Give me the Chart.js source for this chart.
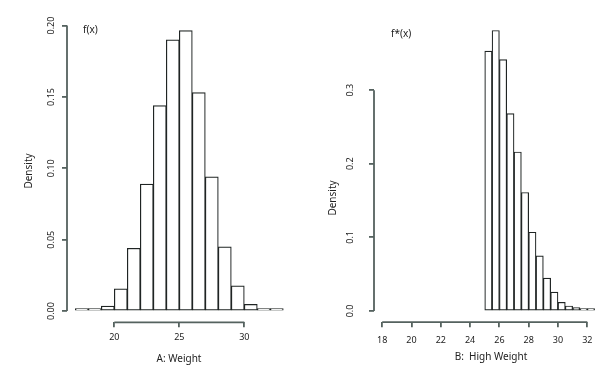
<!DOCTYPE html>
<html>
<head>
<meta charset="utf-8">
<script src="https://cdn.jsdelivr.net/npm/chart.js@4.4.1/dist/chart.umd.min.js"></script>
<style>
    body { margin: 0; background: #fff; }
    #wrap { position: relative; width: 600px; height: 373px; }
    canvas { position: absolute; top: 0; }
</style>
</head>
<body>
<div id="wrap">
    <canvas id="chart-a" width="300" height="373" style="left:0"></canvas>
    <canvas id="chart-b" width="300" height="373" style="left:300px"></canvas>
</div>
<script>
// A: Weight, bins of width 1
const weightBinStart = [17, 18, 19, 20, 21, 22, 23, 24, 25, 26, 27, 28, 29, 30, 31, 32];
const weightDensity = [0.0005, 0.001, 0.0035, 0.0155, 0.044, 0.089, 0.144, 0.190, 0.1965, 0.153, 0.094, 0.045, 0.0177, 0.0047, 0.0014, 0.0005];
const weightTicksX = [20, 25, 30];
const weightTicksY = [0, 0.05, 0.10, 0.15, 0.20];

// B: High Weight, bins of width 0.5
const highBinStart = [25, 25.5, 26, 26.5, 27, 27.5, 28, 28.5, 29, 29.5, 30, 30.5, 31, 31.5, 32];
const highDensity = [0.353, 0.381, 0.3415, 0.268, 0.216, 0.161, 0.107, 0.075, 0.0448, 0.0258, 0.0118, 0.0068, 0.0045, 0.002, 0.001];
const highTicksX = [18, 20, 22, 24, 26, 28, 30, 32];
const highTicksY = [0, 0.1, 0.2, 0.3];

const axisColor = '#55625f';
const textColor = '#222';
const fontFamily = '"Noto Sans", "DejaVu Sans", sans-serif';

// R style axis: line only from first to last tick
const spinePlugin = {
    id: 'spine',
    afterDraw(chart) {
        const ctx = chart.ctx;
        const xs = chart.scales.x, ys = chart.scales.y;
        const area = chart.chartArea;
        ctx.save();
        ctx.strokeStyle = axisColor;
        ctx.lineWidth = 1.8;
        ctx.beginPath();
        const xt = xs.ticks;
        ctx.moveTo(xs.getPixelForValue(xt[0].value), area.bottom);
        ctx.lineTo(xs.getPixelForValue(xt[xt.length - 1].value), area.bottom);
        const yt = ys.ticks;
        ctx.moveTo(area.left, ys.getPixelForValue(yt[0].value));
        ctx.lineTo(area.left, ys.getPixelForValue(yt[yt.length - 1].value));
        ctx.stroke();

        // texts
        const notes = chart.options.plugins.spine.notes || [];
        ctx.fillStyle = textColor;
        ctx.textBaseline = 'middle';
        notes.forEach(n => {
            ctx.font = (n.size || 10) + 'px ' + fontFamily;
            ctx.save();
            ctx.translate(n.x, n.y);
            if (n.rotate) ctx.rotate(-Math.PI / 2);
            ctx.textAlign = n.align || 'center';
            ctx.fillText(n.text, 0, 0);
            ctx.restore();
        });
        ctx.restore();
    }
};

function makeHist(id, binStart, binWidth, density, ticksX, ticksY, opts) {
    const points = binStart.map((b, i) => ({ x: b + binWidth / 2, y: density[i] }));
    return new Chart(document.getElementById(id), {
        type: 'bar',
        data: {
            datasets: [{
                data: points,
                backgroundColor: '#ffffff',
                borderColor: '#1f2423',
                borderWidth: 1.2,
                borderSkipped: false,
                minBarLength: 2.4,
                barPercentage: 1,
                categoryPercentage: 1
            }]
        },
        options: {
            responsive: false,
            animation: false,
            layout: { padding: { top: 19.3, right: opts.padRight, left: 0, bottom: 0 } },
            plugins: {
                legend: { display: false },
                tooltip: { enabled: false },
                spine: { notes: opts.notes }
            },
            scales: {
                x: {
                    type: 'linear',
                    offset: false,
                    min: opts.xMin,
                    max: opts.xMax,
                    grid: { display: true, offset: false, drawOnChartArea: false, tickLength: 5, color: axisColor, lineWidth: 1.8 },
                    border: { display: false },
                    ticks: {
                        color: textColor,
                        font: { family: fontFamily, size: 9 },
                        padding: opts.xPad,
                        maxRotation: 0
                    },
                    afterBuildTicks: s => { s.ticks = ticksX.map(v => ({ value: v })); },
                    afterFit: s => { s.height = opts.xHeight; }
                },
                y: {
                    min: opts.yMin,
                    max: opts.yMax,
                    grid: { display: true, drawOnChartArea: false, tickLength: 5, color: axisColor, lineWidth: 1.8 },
                    border: { display: false },
                    ticks: {
                        color: textColor,
                        font: { family: fontFamily, size: 9 },
                        padding: opts.yPad,
                        minRotation: 90,
                        maxRotation: 90,
                        crossAlign: 'center',
                        callback: v => v.toFixed(opts.digits)
                    },
                    afterBuildTicks: s => { s.ticks = ticksY.map(v => ({ value: v })); },
                    afterFit: s => { s.width = opts.yWidth; }
                }
            }
        },
        plugins: [spinePlugin]
    });
}

makeHist('chart-a', weightBinStart, 1, weightDensity, weightTicksX, weightTicksY, {
    xMin: 16.36, xMax: 33.64, yMin: -0.00786, yMax: 0.2044,
    yWidth: 67, xHeight: 50.7, padRight: 8.4, xPad: 4.5, yPad: 2, digits: 2,
    notes: [
        { text: 'f(x)', x: 83, y: 30, align: 'left' },
        { text: 'Density', x: 29, y: 171, rotate: true },
        { text: 'A: Weight', x: 179, y: 359 }
    ]
});

makeHist('chart-b', highBinStart, 0.5, highDensity, highTicksX, highTicksY, {
    xMin: 17.44, xMax: 32.56, yMin: -0.0152, yMax: 0.3962,
    yWidth: 74, xHeight: 50.8, padRight: 2, xPad: 7.5, yPad: 12, digits: 1,
    notes: [
        { text: 'f*(x)', x: 91, y: 34, align: 'left' },
        { text: 'Density', x: 33, y: 198, rotate: true },
        { text: 'B:  High Weight', x: 191, y: 357 }
    ]
});
</script>
</body>
</html>
